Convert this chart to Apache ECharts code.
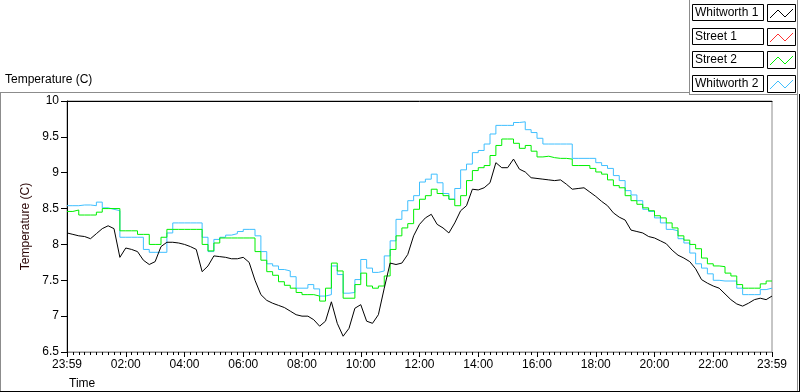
<!DOCTYPE html>
<html>
<head>
<meta charset="utf-8">
<script src="https://cdn.jsdelivr.net/npm/echarts@6/dist/echarts.min.js"></script>
<style>html,body{margin:0;padding:0;background:#fff;}#chart{width:800px;height:392px;}</style>
</head>
<body>
<div id="chart"></div>
<script>
// Time of day in minutes (0 = 23:59 of previous day, 1440 = 23:59)
const minutes = [0,12,24,36,48,60,72,84,96,108,120,132,144,156,168,180,192,204,216,228,240,252,264,276,288,300,312,324,336,348,360,372,384,396,408,420,432,444,456,468,480,492,504,516,528,540,552,564,576,588,600,612,624,636,648,660,672,684,696,708,720,732,744,756,768,780,792,804,816,828,840,852,864,876,888,900,912,924,936,948,960,972,984,996,1008,1020,1032,1044,1056,1068,1080,1092,1104,1116,1128,1140,1152,1164,1176,1188,1200,1212,1224,1236,1248,1260,1272,1284,1296,1308,1320,1332,1344,1356,1368,1380,1392,1404,1416,1428,1440];
const xTickLabels = {0:'23:59',120:'02:00',240:'04:00',360:'06:00',480:'08:00',600:'10:00',720:'12:00',840:'14:00',960:'16:00',1080:'18:00',1200:'20:00',1320:'22:00',1440:'23:59'};
const seriesNames = ['Whitworth 1','Street 1','Street 2','Whitworth 2'];

const whitworth1 = [8.16,8.14,8.12,8.11,8.08,8.15,8.22,8.26,8.22,7.82,7.95,7.93,7.9,7.78,7.72,7.76,7.97,8.03,8.03,8.02,8.0,7.97,7.93,7.62,7.7,7.84,7.83,7.82,7.8,7.8,7.82,7.75,7.5,7.3,7.22,7.18,7.15,7.12,7.07,7.02,7.0,7.0,6.95,6.86,6.93,7.2,6.9,6.72,6.83,7.11,7.16,6.93,6.9,7.02,7.39,7.74,7.72,7.74,7.86,8.12,8.28,8.37,8.42,8.28,8.23,8.16,8.3,8.47,8.54,8.77,8.76,8.79,8.86,9.14,9.07,9.07,9.19,9.05,9.01,8.93,8.92,8.91,8.9,8.89,8.9,8.84,8.77,8.78,8.79,8.73,8.67,8.6,8.54,8.44,8.38,8.34,8.2,8.18,8.16,8.11,8.09,8.05,8.01,7.92,7.85,7.81,7.76,7.66,7.51,7.46,7.42,7.39,7.31,7.23,7.17,7.14,7.18,7.23,7.25,7.23,7.28];
const street1 = [];
const street2 = [8.46,8.48,8.41,8.41,8.41,8.45,8.5,8.5,8.5,8.19,8.19,8.19,8.14,8.14,8.0,8.0,8.1,8.21,8.21,8.21,8.21,8.21,8.21,8.0,7.91,8.02,8.09,8.09,8.09,8.09,8.09,8.09,7.9,7.78,7.62,7.57,7.48,7.43,7.39,7.33,7.3,7.3,7.28,7.21,7.39,7.74,7.63,7.25,7.25,7.44,7.6,7.42,7.39,7.42,7.56,7.93,8.12,8.23,8.29,8.49,8.63,8.68,8.77,8.71,8.68,8.63,8.54,8.68,8.89,9.03,9.07,9.1,9.24,9.38,9.47,9.47,9.41,9.34,9.38,9.3,9.22,9.23,9.21,9.2,9.2,9.19,9.1,9.1,9.1,9.06,9.01,8.98,8.9,8.82,8.79,8.68,8.61,8.56,8.51,8.47,8.4,8.37,8.3,8.23,8.12,8.06,8.0,7.94,7.81,7.73,7.7,7.69,7.6,7.56,7.44,7.39,7.39,7.39,7.45,7.49,7.49];
const whitworth2 = [8.54,8.54,8.55,8.55,8.54,8.59,8.51,8.49,8.47,8.1,8.1,8.1,8.1,7.93,7.89,7.89,7.89,8.16,8.3,8.3,8.3,8.3,8.3,8.1,7.9,8.07,8.1,8.13,8.15,8.18,8.21,8.21,8.12,7.9,7.73,7.7,7.65,7.63,7.55,7.39,7.39,7.44,7.38,7.28,7.3,7.7,7.58,7.32,7.33,7.51,7.79,7.67,7.61,7.63,7.84,8.05,8.35,8.47,8.61,8.68,8.87,8.91,8.98,8.86,8.71,8.63,8.78,9.04,9.12,9.28,9.31,9.4,9.54,9.66,9.66,9.66,9.7,9.71,9.6,9.56,9.48,9.4,9.4,9.4,9.4,9.4,9.2,9.2,9.2,9.2,9.14,9.1,9.06,8.96,8.89,8.75,8.69,8.61,8.49,8.46,8.37,8.3,8.21,8.19,8.08,8.02,7.88,7.73,7.67,7.59,7.5,7.49,7.49,7.49,7.39,7.3,7.3,7.3,7.37,7.39,7.39];

const colors = ['#000000','#ff3030','#00f000','#3fbfff'];
const FONT = 'Liberation Sans';

function pairs(vals){ return vals.map((v,i)=>[minutes[i], v]); }

const chart = echarts.init(document.getElementById('chart'), null, {renderer:'canvas'});

// legend drawn as boxed entries (text box + sample line box)
const legendEls = [];
seriesNames.forEach((name,i)=>{
  const y0 = Math.round(4 + i*23.5);
  legendEls.push({type:'rect', shape:{x:692.5,y:y0+0.5,width:71,height:16}, style:{fill:'#fff',stroke:'#000',lineWidth:1}, z:10});
  legendEls.push({type:'text', x:695, y:y0+9, style:{text:name, font:'12px "'+FONT+'"', fill:'#000', verticalAlign:'middle', align:'left'}, z:11});
  legendEls.push({type:'rect', shape:{x:767.5,y:y0+0.5,width:28,height:17}, style:{fill:'#fff',stroke:'#000',lineWidth:1}, z:10});
  legendEls.push({type:'polyline', shape:{points:[[770,y0+14],[778,y0+6],[785,y0+13],[793,y0+5]]}, style:{stroke:colors[i],lineWidth:1,fill:null}, z:11});
});

const frameEls = [
  {type:'line', shape:{x1:0,y1:92.5,x2:690,y2:92.5}, style:{stroke:'#8c8c8c',lineWidth:1}},
  {type:'line', shape:{x1:0.5,y1:92,x2:0.5,y2:392}, style:{stroke:'#8c8c8c',lineWidth:1}},
  {type:'line', shape:{x1:689.5,y1:0,x2:689.5,y2:95}, style:{stroke:'#8c8c8c',lineWidth:1}},
  {type:'line', shape:{x1:689,y1:94.5,x2:798,y2:94.5}, style:{stroke:'#8c8c8c',lineWidth:1}},
  {type:'line', shape:{x1:797.5,y1:0,x2:797.5,y2:392}, style:{stroke:'#8c8c8c',lineWidth:1}},
  {type:'line', shape:{x1:799.5,y1:94,x2:799.5,y2:392}, style:{stroke:'#000',lineWidth:1}},
  {type:'line', shape:{x1:0,y1:391.5,x2:800,y2:391.5}, style:{stroke:'#000',lineWidth:1}}
];

const option = {
  animation:false,
  backgroundColor:'#fff',
  textStyle:{fontFamily:FONT},
  title:{text:'Temperature (C)', left:5, top:74, padding:0, textStyle:{fontSize:12, fontWeight:'normal', color:'#000', fontFamily:FONT}},
  grid:{left:67, right:28, top:101, bottom:40, show:true, borderColor:'#8c8c8c', borderWidth:1, backgroundColor:'#fff'},
  xAxis:[{
    type:'value', min:0, max:1440, interval:120,
    axisLine:{show:true, lineStyle:{color:'#8c8c8c', width:1}},
    axisTick:{show:true, length:5, lineStyle:{color:'#000'}},
    minorTick:{show:true, splitNumber:10, length:3, lineStyle:{color:'#000'}},
    splitLine:{show:false},
    axisLabel:{margin:7, color:'#000', fontSize:12, fontFamily:FONT, showMinLabel:true, showMaxLabel:true,
      formatter:(v)=> xTickLabels[v] !== undefined ? xTickLabels[v] : ''},
    name:'Time', nameLocation:'start', nameGap:0,
    nameTextStyle:{align:'left', verticalAlign:'top', padding:[26,0,0,2], color:'#000', fontSize:12, fontFamily:FONT}
  },{
    type:'value', min:0, max:1440, position:'top',
    axisLine:{show:true, lineStyle:{color:'#000', width:1}},
    axisTick:{show:false}, axisLabel:{show:false}, splitLine:{show:false}
  },{
    // minor tick row (every 12 minutes)
    type:'value', min:0, max:1440, interval:12, position:'bottom',
    axisLine:{show:false},
    axisTick:{show:true, length:3, lineStyle:{color:'#000'}},
    axisLabel:{show:false}, splitLine:{show:false}
  }],
  yAxis:{
    type:'value', min:6.5, max:10, interval:0.5,
    axisLine:{show:true, lineStyle:{color:'#000', width:1}},
    axisTick:{show:true, length:6, lineStyle:{color:'#000'}},
    splitLine:{show:false},
    axisLabel:{margin:8, color:'#000', fontSize:12, fontFamily:FONT},
    name:'Temperature (C)', nameLocation:'middle', nameGap:33, nameRotate:90,
    nameTextStyle:{color:'#2a0505', fontSize:12, fontFamily:FONT}
  },
  graphic:[...frameEls, ...legendEls],
  series:[
    {name:seriesNames[0], type:'line', data:pairs(whitworth1), showSymbol:false, lineStyle:{color:colors[0], width:1}, itemStyle:{color:colors[0]}, z:5},
    {name:seriesNames[1], type:'line', data:pairs(street1), showSymbol:false, lineStyle:{color:colors[1], width:1}, itemStyle:{color:colors[1]}, z:4},
    {name:seriesNames[2], type:'line', step:'end', data:pairs(street2), showSymbol:false, lineStyle:{color:colors[2], width:1}, itemStyle:{color:colors[2]}, z:3},
    {name:seriesNames[3], type:'line', step:'end', data:pairs(whitworth2), showSymbol:false, lineStyle:{color:colors[3], width:1}, itemStyle:{color:colors[3]}, z:2}
  ]
};
chart.setOption(option);
</script>
</body>
</html>
